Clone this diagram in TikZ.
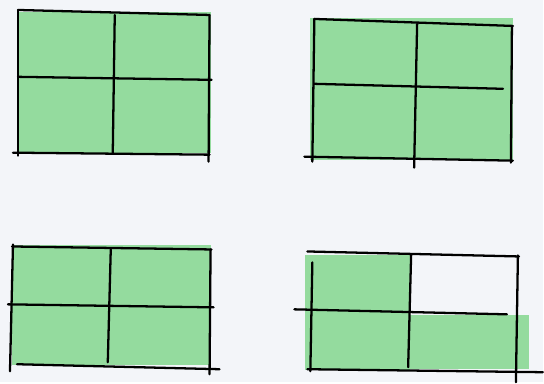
\documentclass[tikz,border=0pt]{standalone}
\usepackage{tikz}
\definecolor{marker}{RGB}{148,219,158}
\definecolor{paper}{RGB}{243,245,249}

\begin{document}
\begin{tikzpicture}[x=0.02cm, y=-0.02cm, pen/.style={line width=1.3pt, black, line cap=round}, wash/.style={fill=marker}]
\fill[paper] (0,0) rectangle (544,383);

% top left
\fill[wash] (18,12) rectangle (211,153);
\draw[pen] (18,10) -- (210,15);
\draw[pen] (18,10) -- (18,156);
\draw[pen] (210,15) -- (209,162);
\draw[pen] (13,153) -- (210,155);
\draw[pen] (18,77) -- (212,80);
\draw[pen] (115,15) -- (113,153);

% top right
\fill[wash] (311,18) rectangle (514,160);
\draw[pen] (315,19) -- (514,26);
\draw[pen] (315,19) -- (313,162);
\draw[pen] (513,26) -- (512,163);
\draw[pen] (305,157) -- (514,161);
\draw[pen] (315,84) -- (504,89);
\draw[pen] (418,24) -- (415,168);

% bottom left
\fill[wash] (12,246) rectangle (211,366);
\draw[pen] (12,247) -- (212,250);
\draw[pen] (13,245) -- (10,372);
\draw[pen] (211,250) -- (210,375);
\draw[pen] (17,365) -- (220,370);
\draw[pen] (8,305) -- (214,308);
\draw[pen] (111,250) -- (108,363);

% bottom right, top right quarter left white
\fill[wash] (306,256) rectangle (411,371);
\fill[wash] (410,316) rectangle (530,370);
\draw[pen] (308,252) -- (520,257);
\draw[pen] (313,263) -- (311,372);
\draw[pen] (519,256) -- (517,383);
\draw[pen] (308,370) -- (544,373);
\draw[pen] (295,310) -- (508,315);
\draw[pen] (412,255) -- (409,368);
\end{tikzpicture}
\end{document}
